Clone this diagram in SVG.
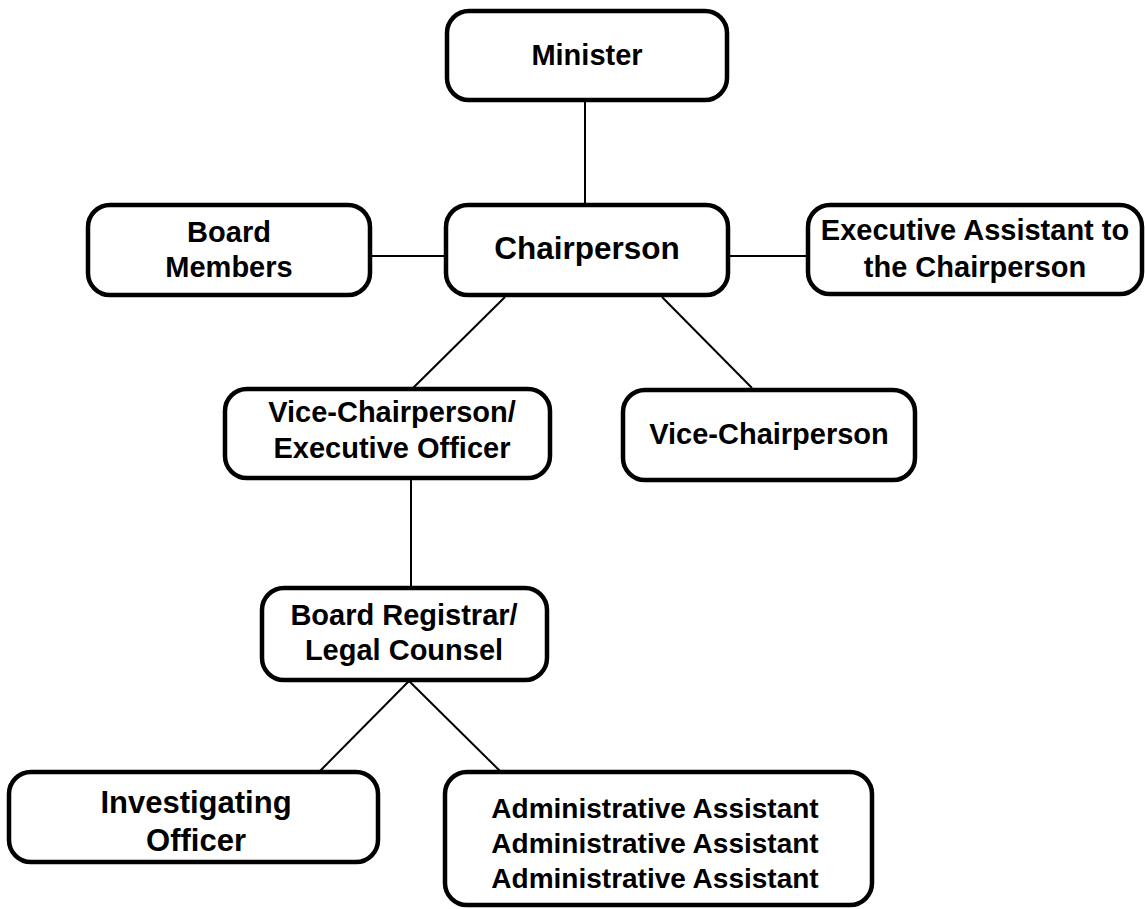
<svg xmlns="http://www.w3.org/2000/svg" width="1145" height="909" viewBox="0 0 1145 909">
<style>
.box{fill:#fff;stroke:#000;stroke-width:4.5}
.t{font-family:"Liberation Sans",Arial,sans-serif;font-weight:bold;font-size:29px;fill:#000;text-anchor:middle}
.c{stroke:#000;stroke-width:2;fill:none}
</style>
<rect width="1145" height="909" fill="#fff"/>
<g id="connectors">
<line class="c" x1="585" y1="100" x2="585" y2="205"/>
<line class="c" x1="370" y1="256" x2="446" y2="256"/>
<line class="c" x1="728" y1="256" x2="808" y2="256"/>
<line class="c" x1="505" y1="297" x2="413" y2="388"/>
<line class="c" x1="662" y1="297" x2="752" y2="388"/>
<line class="c" x1="411" y1="478" x2="411" y2="588"/>
<line class="c" x1="409" y1="681" x2="320" y2="771"/>
<line class="c" x1="409" y1="681" x2="500" y2="771"/>
</g>
<g id="minister">
<rect class="box" x="447" y="11" width="280" height="89" rx="22"/>
<text class="t" x="587" y="65">Minister</text>
</g>
<g id="board-members">
<rect class="box" x="88" y="205" width="282" height="90" rx="22"/>
<text class="t" x="229" y="242">Board</text>
<text class="t" x="229" y="277">Members</text>
</g>
<g id="chairperson">
<rect class="box" x="446" y="205" width="282" height="90" rx="22"/>
<text class="t" x="587" y="259" style="font-size:31.5px">Chairperson</text>
</g>
<g id="exec-assistant">
<rect class="box" x="808" y="205" width="334" height="89" rx="22"/>
<text class="t" x="975" y="240">Executive Assistant to</text>
<text class="t" x="975" y="277">the Chairperson</text>
</g>
<g id="vice-chair-eo">
<rect class="box" x="225" y="389" width="325" height="89" rx="22"/>
<text class="t" x="392" y="422">Vice-Chairperson/</text>
<text class="t" x="392" y="458">Executive Officer</text>
</g>
<g id="vice-chair">
<rect class="box" x="623" y="390" width="292" height="90" rx="22"/>
<text class="t" x="769" y="444">Vice-Chairperson</text>
</g>
<g id="board-registrar">
<rect class="box" x="262" y="588" width="285" height="92" rx="22"/>
<text class="t" x="404" y="625">Board Registrar/</text>
<text class="t" x="404" y="660">Legal Counsel</text>
</g>
<g id="investigating-officer">
<rect class="box" x="9" y="772" width="369" height="90" rx="22"/>
<text class="t" x="196" y="813" style="font-size:31px">Investigating</text>
<text class="t" x="196" y="851" style="font-size:31px">Officer</text>
</g>
<g id="admin-assistants">
<rect class="box" x="445" y="772" width="427" height="133" rx="22"/>
<text class="t" x="655" y="818" style="font-size:28px">Administrative Assistant</text>
<text class="t" x="655" y="853" style="font-size:28px">Administrative Assistant</text>
<text class="t" x="655" y="888" style="font-size:28px">Administrative Assistant</text>
</g>
</svg>
